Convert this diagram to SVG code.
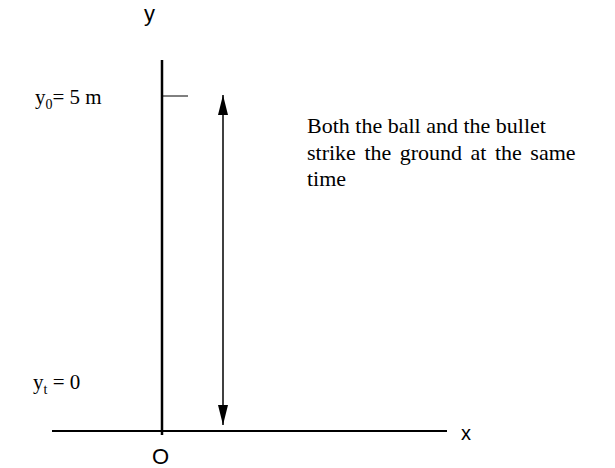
<svg xmlns="http://www.w3.org/2000/svg" width="615" height="468" viewBox="0 0 615 468">
<style>
.s{font-family:"Liberation Serif","Times New Roman",serif;font-size:22px;fill:#000}
.l{font-family:"Liberation Serif","Times New Roman",serif;font-size:21px;fill:#000}
.a{font-family:"Liberation Sans",Arial,sans-serif;font-size:22px;fill:#000}
.sub{font-size:14px}
</style>
<defs>
<marker id="ah" viewBox="0 0 20 10" refX="20" refY="5" markerWidth="20" markerHeight="10" markerUnits="userSpaceOnUse" orient="auto-start-reverse">
<path d="M0,0 L20,5 L0,10 Z" fill="#000"/>
</marker>
</defs>
<g id="connectors">
<line x1="162" y1="60" x2="162" y2="435" stroke="#000" stroke-width="2.5"/>
<line x1="52" y1="431" x2="447" y2="431" stroke="#000" stroke-width="1.8"/>
<line x1="162" y1="96" x2="188" y2="96" stroke="#000" stroke-width="1"/>
<line x1="223" y1="95" x2="223" y2="425" stroke="#000" stroke-width="1.5" marker-start="url(#ah)" marker-end="url(#ah)"/>
</g>
<g id="label-y"><text class="a" x="144" y="21">y</text></g>
<g id="label-y0"><text class="l" x="35" y="104">y<tspan class="sub" dy="5">0</tspan><tspan dy="-5">= 5 m</tspan></text></g>
<g id="label-yt"><text class="l" x="33" y="389">y<tspan class="sub" dy="5">t</tspan><tspan dy="-5"> = 0</tspan></text></g>
<g id="label-x"><text class="a" x="461" y="440" style="font-size:20px">x</text></g>
<g id="label-O"><text class="a" x="152" y="464">O</text></g>
<g id="note">
<text class="s" x="307" y="133">Both the ball and the bullet</text>
<text class="s" x="307" y="160" word-spacing="3">strike the ground at the same</text>
<text class="s" x="307" y="186">time</text>
</g>
</svg>
